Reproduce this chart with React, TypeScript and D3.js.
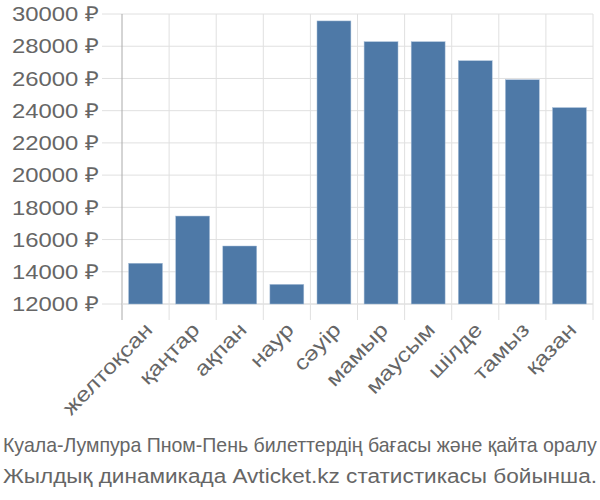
import React, { useLayoutEffect, useRef, useState } from "react";
import * as d3 from "d3";

const categories = ["желтоқсан", "қаңтар", "ақпан", "наур", "сәуір", "мамыр", "маусым", "шілде", "тамыз", "қазан"];
const prices = [14530, 17460, 15600, 13220, 29570, 28280, 28280, 27100, 25920, 24190];
const yTicks = [12000, 14000, 16000, 18000, 20000, 22000, 24000, 26000, 28000, 30000];
const captionLines = [
  "Куала-Лумпура Пном-Пень билеттердің бағасы және қайта оралу",
  "Жылдық динамикада Avticket.kz статистикасы бойынша.",
];

const W = 600, H = 500;
const left = 122, right = 593, top = 14, bottom = 304;

export default function App() {
  const x = d3.scaleBand<string>().domain(categories).range([left, right]).paddingInner(0.28).paddingOuter(0.14);
  const xg = d3.scaleBand<string>().domain(categories).range([left, right]);
  const y = d3.scaleLinear().domain([12000, 30000]).range([bottom, top]);
  const font = "'Liberation Sans', Arial, sans-serif";
  const capRefs = useRef<(SVGTextElement | null)[]>([]);
  const [scales, setScales] = useState<number[]>([0.95, 0.95]);
  useLayoutEffect(() => {
    const s = capRefs.current.map((el) => {
      if (!el) return 1;
      const len = el.getComputedTextLength();
      return len > 0 ? 594 / len : 1;
    });
    setScales(s);
  }, []);
  return (
    <svg width={W} height={H} style={{ position: "absolute", left: 0, top: 0, background: "#fff" }}>
      {yTicks.map((t) => (
        <line key={"h" + t} x1={102} x2={right} y1={y(t)} y2={y(t)} stroke="#e0e0e0" strokeWidth={1} />
      ))}
      {categories.map((c) => (
        <line key={"v" + c} x1={(xg(c) as number) + xg.bandwidth()} x2={(xg(c) as number) + xg.bandwidth()} y1={top} y2={320} stroke="#e0e0e0" strokeWidth={1} />
      ))}
      <line x1={left} x2={left} y1={top} y2={320} stroke="#aaa" strokeWidth={1} />
      <line x1={left} x2={right} y1={bottom} y2={bottom} stroke="#e0e0e0" strokeWidth={1} />
      {categories.map((c, i) => (
        <rect key={"b" + c} x={x(c)} y={y(prices[i])} width={x.bandwidth()} height={bottom - y(prices[i])} fill="#4e79a7" stroke="#a9c0d9" strokeWidth={0.5} />
      ))}
      {yTicks.map((t) => (
        <text key={"t" + t} x={99} y={y(t)} dy="0.35em" textAnchor="end" fontFamily={font} fontSize={20.5} fill="#666" textLength={87} lengthAdjust="spacingAndGlyphs">
          {t} ₽
        </text>
      ))}
      {categories.map((c) => {
        const cx = (xg(c) as number) + xg.bandwidth() / 2 + 3;
        return (
          <text key={"l" + c} transform={`translate(${cx},${326}) rotate(-46) scale(1.2,1)`} textAnchor="end" dy="0.35em" fontFamily={font} fontSize={20.5} fill="#666">
            {c}
          </text>
        );
      })}
      {captionLines.map((l, i) => (
        <text
          key={"c" + i}
          ref={(el) => { capRefs.current[i] = el; }}
          x={0}
          y={0}
          transform={`translate(3,${452 + i * 31}) scale(${scales[i]},1)`}
          fontFamily={font}
          fontSize={20}
          fill="#666"
        >
          {l}
        </text>
      ))}
    </svg>
  );
}
